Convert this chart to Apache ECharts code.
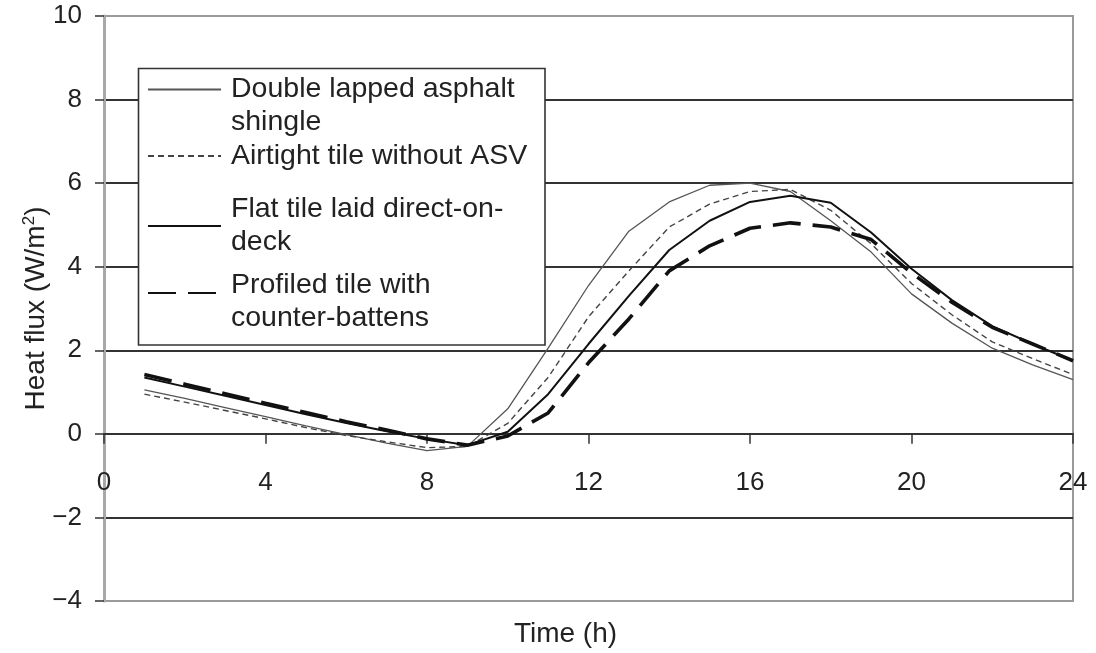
<!DOCTYPE html>
<html>
<head>
<meta charset="utf-8">
<script src="https://cdn.jsdelivr.net/npm/echarts@6/dist/echarts.min.js"></script>
<style>
html,body{margin:0;padding:0;background:#fff;}
#c{width:1096px;height:653px;}
</style>
</head>
<body>
<div id="c"></div>
<script>
const hours = [1,2,3,4,5,6,7,8,9,10,11,12,13,14,15,16,17,18,19,20,21,22,23,24];
const asphalt  = [1.05,0.85,0.63,0.41,0.19,-0.02,-0.22,-0.40,-0.30,0.60,2.05,3.55,4.85,5.55,5.95,6.00,5.80,5.10,4.35,3.35,2.65,2.05,1.65,1.30];
const airtight = [0.95,0.76,0.56,0.36,0.15,-0.04,-0.19,-0.33,-0.30,0.25,1.35,2.80,3.90,4.95,5.50,5.80,5.85,5.35,4.55,3.60,2.85,2.20,1.80,1.42];
const flat     = [1.35,1.13,0.91,0.69,0.47,0.26,0.06,-0.12,-0.27,0.05,0.95,2.15,3.30,4.40,5.10,5.55,5.70,5.53,4.82,3.95,3.20,2.58,2.15,1.75];
const profiled = [1.42,1.19,0.96,0.73,0.51,0.29,0.09,-0.12,-0.27,-0.05,0.50,1.70,2.75,3.90,4.50,4.92,5.05,4.95,4.65,3.85,3.15,2.55,2.15,1.75];
const seriesNames = ['Double lapped asphalt shingle','Airtight tile without ASV','Flat tile laid direct-on-deck','Profiled tile with counter-battens'];
const legendLabels = [' \nDouble lapped asphalt\nshingle','Airtight tile without ASV','Flat tile laid direct-on-\ndeck','{s| }\nProfiled tile with\ncounter-battens'];
const xTicks = [0,4,8,12,16,20,24];
const yTicks = [-4,-2,0,2,4,6,8,10];

const FONT = '"Liberation Sans", Arial, Helvetica, sans-serif';
const pair = (ys) => hours.map((h,i) => [h, ys[i]]);

// plot geometry
const GRID = {left: 104, right: 23, top: 16, bottom: 52};
const plotH = 653 - GRID.top - GRID.bottom;
const yMin = yTicks[0], yMax = yTicks[yTicks.length-1];
const zeroOffset = -plotH * (0 - yMin) / (yMax - yMin); // lift x axis to the y=0 line

function mkLegend(i, top){
  return {
    left: 147, top: top, padding: 0, itemWidth: 73, itemHeight: 14, z: 20,
    selectedMode: false, data: [seriesNames[i]],
    itemStyle: {opacity: 0, borderWidth: 0},
    formatter: (n) => legendLabels[seriesNames.indexOf(n)],
    textStyle: {fontFamily: FONT, fontSize: 28.5, lineHeight: 33, color: '#222', padding: [0,0,0,5],
      rich: {s: {fontSize: 10, lineHeight: 17}}}
  };
}

const chart = echarts.init(document.getElementById('c'), null, {renderer:'canvas'});
chart.setOption({
  animation: false,
  backgroundColor: '#fff',
  grid: Object.assign({show: true, borderColor: '#9a9a9a', borderWidth: 2, backgroundColor: 'transparent',
    containLabel: false, outerBoundsMode: 'none'}, GRID),
  xAxis: {
    type: 'value', min: xTicks[0], max: xTicks[xTicks.length-1], interval: 4,
    position: 'bottom', offset: zeroOffset,
    name: 'Time (h)', nameLocation: 'middle', nameGap: 186, nameMoveOverlap: false,
    nameTextStyle: {fontFamily: FONT, fontSize: 28, color: '#222', padding: [0,46,0,0]},
    axisLine: {onZero: false, lineStyle: {color: '#333', width: 2}},
    axisTick: {show: true, length: 10, lineStyle: {color: '#333', width: 1.5}},
    axisLabel: {fontFamily: FONT, fontSize: 26, color: '#222', margin: 36},
    splitLine: {show: false}
  },
  yAxis: {
    type: 'value', min: yMin, max: yMax, interval: 2,
    name: 'Heat flux (W/m{sup|2})', nameLocation: 'middle', nameGap: 52, nameMoveOverlap: false,
    nameTextStyle: {fontFamily: FONT, fontSize: 28, color: '#222',
      rich: {sup: {fontFamily: FONT, fontSize: 17, color: '#222', padding: [0,0,14,0]}}},
    axisLine: {show: true, onZero: false, lineStyle: {color: '#a8a8a8', width: 3}},
    axisTick: {show: true, length: 9, lineStyle: {color: '#333', width: 1.5}},
    axisLabel: {fontFamily: FONT, fontSize: 26, color: '#222', margin: 22,
      formatter: (v) => v < 0 ? '\u2212' + Math.abs(v) : String(v)},
    splitLine: {show: true, showMinLine: false, showMaxLine: false, lineStyle: {color: '#333', width: 1.8}}
  },
  legend: [
    mkLegend(0, 40),
    mkLegend(1, 139.5),
    mkLegend(2, 193),
    mkLegend(3, 251.5)
  ],
  graphic: [{
    type: 'rect', z: 10, zlevel: 0,
    shape: {x: 138.5, y: 68.5, width: 406.5, height: 276.5},
    style: {fill: '#fff', stroke: '#333', lineWidth: 1.6}
  }],
  series: [
    {name: seriesNames[0], type: 'line', data: pair(asphalt), symbol: 'none', z: 3,
     itemStyle: {color: '#777'}, lineStyle: {color: '#555', width: 1.3}},
    {name: seriesNames[1], type: 'line', data: pair(airtight), symbol: 'none', z: 3,
     itemStyle: {color: '#666'}, lineStyle: {color: '#444', width: 1.4, type: [6,4]}},
    {name: seriesNames[2], type: 'line', data: pair(flat), symbol: 'none', z: 4,
     itemStyle: {color: '#111'}, lineStyle: {color: '#111', width: 2}},
    {name: seriesNames[3], type: 'line', data: pair(profiled), symbol: 'none', z: 5,
     itemStyle: {color: '#111'}, lineStyle: {color: '#111', width: 3.6, type: [28,12]}}
  ]
});
</script>
</body>
</html>
